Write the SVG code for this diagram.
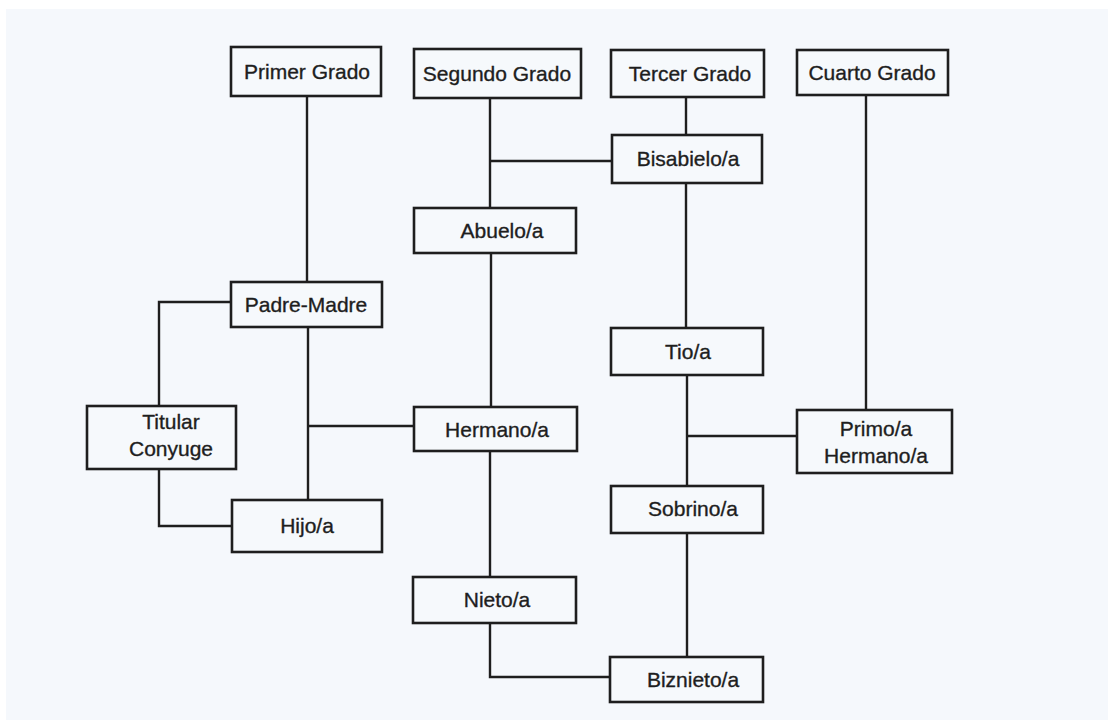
<svg xmlns="http://www.w3.org/2000/svg" width="1108" height="720" viewBox="0 0 1108 720">
<style>
.box{fill:#f6f9fc;stroke:#1e1e1e;stroke-width:2.6}
.ln{fill:none;stroke:#1e1e1e;stroke-width:2.4}
text{font-family:"Liberation Sans",Arial,sans-serif;font-size:21px;fill:#1e1e1e;stroke:#1e1e1e;stroke-width:0.35;text-anchor:middle}
</style>
<rect x="0" y="0" width="1108" height="720" fill="#ffffff"/>
<rect x="6" y="9" width="1102" height="711" fill="#f5f8fc"/>
<g id="connectors">
<path class="ln" d="M307,96 V282"/>
<path class="ln" d="M308,327 V500"/>
<path class="ln" d="M231,302 H159 V405"/>
<path class="ln" d="M159,470 V526 H232"/>
<path class="ln" d="M308,426 H414"/>
<path class="ln" d="M490,98 V208"/>
<path class="ln" d="M490,161 H612"/>
<path class="ln" d="M491,253 V407"/>
<path class="ln" d="M490,451 V577"/>
<path class="ln" d="M490,623 V677 H610"/>
<path class="ln" d="M686,97 V135"/>
<path class="ln" d="M686,183 V328"/>
<path class="ln" d="M687,375 V486"/>
<path class="ln" d="M687,436 H797"/>
<path class="ln" d="M687,533 V657"/>
<path class="ln" d="M866,95 V409"/>
</g>
<g id="primer-grado"><rect class="box" x="231" y="47" width="150" height="49"/><text x="307" y="79">Primer Grado</text></g>
<g id="segundo-grado"><rect class="box" x="414" y="49" width="167" height="49"/><text x="497" y="81">Segundo Grado</text></g>
<g id="tercer-grado"><rect class="box" x="611" y="50" width="153" height="47"/><text x="690" y="81">Tercer Grado</text></g>
<g id="cuarto-grado"><rect class="box" x="797" y="50" width="151" height="45"/><text x="872" y="80">Cuarto Grado</text></g>
<g id="bisabielo"><rect class="box" x="612" y="135" width="150" height="48"/><text x="688" y="166">Bisabielo/a</text></g>
<g id="abuelo"><rect class="box" x="414" y="208" width="162" height="45"/><text x="502" y="238">Abuelo/a</text></g>
<g id="padre-madre"><rect class="box" x="231" y="282" width="151" height="45"/><text x="306" y="312">Padre-Madre</text></g>
<g id="tio"><rect class="box" x="611" y="328" width="152" height="47"/><text x="688" y="359">Tio/a</text></g>
<g id="titular-conyuge"><rect class="box" x="87" y="406" width="149" height="63"/><text x="171" y="429">Titular</text><text x="171" y="456">Conyuge</text></g>
<g id="hermano"><rect class="box" x="414" y="407" width="163" height="44"/><text x="497" y="437">Hermano/a</text></g>
<g id="primo-hermano"><rect class="box" x="797" y="410" width="155" height="63"/><text x="876" y="436">Primo/a</text><text x="876" y="463">Hermano/a</text></g>
<g id="hijo"><rect class="box" x="232" y="500" width="150" height="52"/><text x="307" y="533">Hijo/a</text></g>
<g id="sobrino"><rect class="box" x="611" y="486" width="152" height="47"/><text x="693" y="516">Sobrino/a</text></g>
<g id="nieto"><rect class="box" x="413" y="577" width="163" height="46"/><text x="497" y="607">Nieto/a</text></g>
<g id="biznieto"><rect class="box" x="610" y="657" width="153" height="45"/><text x="693" y="687">Biznieto/a</text></g>
</svg>
